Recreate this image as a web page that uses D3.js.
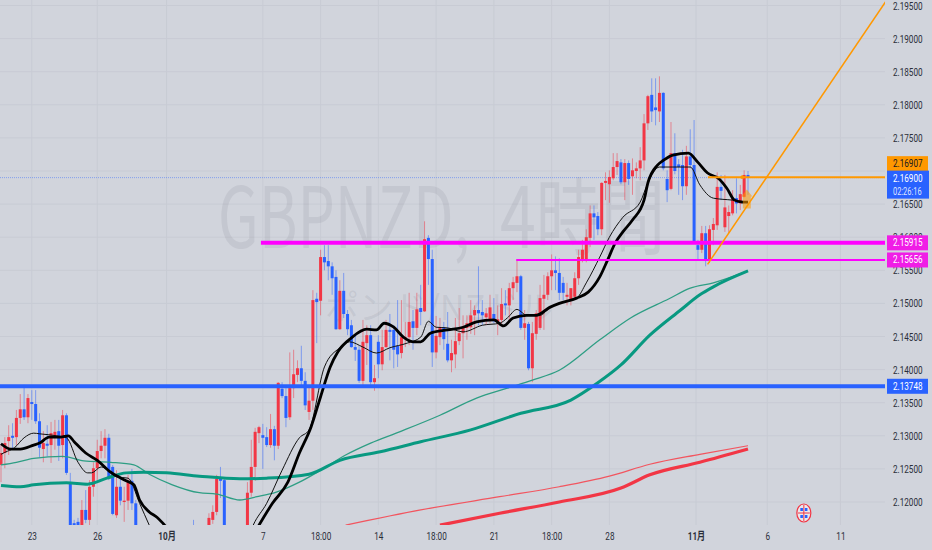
<!DOCTYPE html>
<html>
<head>
<meta charset="utf-8">
<script src="https://cdn.jsdelivr.net/npm/d3@7"></script>
<style>
html, body { margin: 0; padding: 0; background: #d1d4dc; overflow: hidden; }
svg { display: block; }
</style>
</head>
<body>
<div id="chart"></div>
<script>
// [open, high, low, close], one row per 4h bar
const candles = [
[2.1256,2.1286,2.1230,2.1274],[2.1274,2.1298,2.1251,2.1289],[2.1292,2.1316,2.1271,2.1298],[2.1300,2.1319,2.1279,2.1297],
[2.1298,2.1339,2.1286,2.1327],[2.1327,2.1363,2.1318,2.1340],[2.1340,2.1377,2.1324,2.1328],[2.1328,2.1363,2.1319,2.1357],
[2.1351,2.1369,2.1324,2.1348],[2.1348,2.1369,2.1318,2.1322],[2.1322,2.1334,2.1268,2.1282],[2.1280,2.1307,2.1260,2.1289],
[2.1288,2.1316,2.1269,2.1285],[2.1286,2.1321,2.1259,2.1304],[2.1297,2.1324,2.1279,2.1306],[2.1307,2.1324,2.1262,2.1285],
[2.1286,2.1339,2.1266,2.1331],[2.1331,2.1334,2.1241,2.1244],[2.1230,2.1244,2.1150,2.1158],[2.1168,2.1173,2.1143,2.1155],
[2.1170,2.1176,2.1145,2.1155],[2.1165,2.1203,2.1158,2.1188],[2.1188,2.1218,2.1168,2.1173],[2.1173,2.1233,2.1162,2.1223],
[2.1223,2.1260,2.1208,2.1251],[2.1251,2.1294,2.1233,2.1277],[2.1277,2.1307,2.1266,2.1285],[2.1285,2.1310,2.1266,2.1297],
[2.1297,2.1303,2.1233,2.1236],[2.1253,2.1256,2.1180,2.1182],[2.1180,2.1248,2.1176,2.1223],[2.1223,2.1236,2.1195,2.1202],
[2.1200,2.1223,2.1170,2.1202],[2.1202,2.1241,2.1188,2.1230],[2.1232,2.1250,2.1188,2.1198],[2.1198,2.1203,2.1155,2.1161],
[2.1160,2.1162,2.1125,2.1135],[2.1135,2.1150,2.1115,2.1128],[2.1128,2.1145,2.1110,2.1120],[2.1120,2.1140,2.1105,2.1132],
[2.1132,2.1150,2.1120,2.1125],[2.1125,2.1140,2.1100,2.1110],[2.1110,2.1130,2.1095,2.1122],[2.1122,2.1145,2.1115,2.1135],
[2.1135,2.1150,2.1120,2.1125],[2.1125,2.1140,2.1110,2.1130],[2.1130,2.1155,2.1125,2.1148],[2.1148,2.1160,2.1130,2.1135],
[2.1135,2.1150,2.1125,2.1145],[2.1145,2.1160,2.1135,2.1140],[2.1158,2.1173,2.1130,2.1140],[2.1135,2.1150,2.1125,2.1145],
[2.1145,2.1160,2.1135,2.1150],[2.1150,2.1163,2.1140,2.1158],[2.1161,2.1183,2.1155,2.1176],[2.1173,2.1195,2.1167,2.1185],
[2.1185,2.1241,2.1180,2.1235],[2.1235,2.1253,2.1206,2.1232],[2.1233,2.1236,2.1155,2.1158],[2.1158,2.1160,2.1130,2.1140],
[2.1140,2.1155,2.1120,2.1130],[2.1130,2.1150,2.1115,2.1142],[2.1142,2.1155,2.1125,2.1135],[2.1135,2.1150,2.1125,2.1145],
[2.1150,2.1230,2.1140,2.1214],[2.1214,2.1294,2.1208,2.1253],[2.1253,2.1312,2.1232,2.1306],[2.1304,2.1315,2.1289,2.1313],
[2.1301,2.1318,2.1250,2.1297],[2.1298,2.1313,2.1283,2.1286],[2.1286,2.1333,2.1282,2.1310],[2.1310,2.1315,2.1263,2.1285],
[2.1285,2.1381,2.1280,2.1380],[2.1371,2.1381,2.1357,2.1360],[2.1360,2.1372,2.1313,2.1327],[2.1328,2.1426,2.1324,2.1372],
[2.1372,2.1430,2.1357,2.1393],[2.1392,2.1414,2.1381,2.1402],[2.1402,2.1436,2.1377,2.1383],[2.1383,2.1396,2.1339,2.1346],
[2.1336,2.1377,2.1324,2.1353],[2.1353,2.1520,2.1339,2.1505],[2.1507,2.1516,2.1440,2.1502],[2.1504,2.1581,2.1482,2.1570],
[2.1570,2.1588,2.1550,2.1562],[2.1564,2.1588,2.1535,2.1556],[2.1556,2.1562,2.1513,2.1538],[2.1540,2.1550,2.1460,2.1461],
[2.1461,2.1535,2.1460,2.1519],[2.1519,2.1546,2.1478,2.1484],[2.1484,2.1490,2.1452,2.1461],[2.1467,2.1475,2.1433,2.1434],
[2.1434,2.1451,2.1413,2.1430],[2.1430,2.1437,2.1380,2.1383],[2.1383,2.1475,2.1377,2.1442],[2.1440,2.1467,2.1407,2.1452],
[2.1452,2.1467,2.1377,2.1381],[2.1381,2.1407,2.1368,2.1387],[2.1442,2.1452,2.1387,2.1408],[2.1408,2.1460,2.1399,2.1434],
[2.1434,2.1475,2.1433,2.1460],[2.1460,2.1484,2.1414,2.1457],[2.1460,2.1467,2.1402,2.1430],[2.1436,2.1505,2.1404,2.1423],
[2.1425,2.1505,2.1417,2.1449],[2.1448,2.1472,2.1434,2.1449],[2.1449,2.1516,2.1437,2.1472],[2.1473,2.1490,2.1430,2.1463],
[2.1463,2.1516,2.1452,2.1491],[2.1493,2.1528,2.1467,2.1487],[2.1488,2.1624,2.1487,2.1597],[2.1599,2.1603,2.1528,2.1567],
[2.1567,2.1581,2.1404,2.1426],[2.1426,2.1481,2.1417,2.1451],[2.1449,2.1478,2.1437,2.1464],[2.1464,2.1472,2.1430,2.1446],
[2.1439,2.1487,2.1411,2.1414],[2.1414,2.1445,2.1396,2.1425],[2.1423,2.1478,2.1402,2.1443],[2.1443,2.1493,2.1437,2.1455],
[2.1455,2.1482,2.1417,2.1463],[2.1463,2.1482,2.1445,2.1470],[2.1464,2.1505,2.1454,2.1482],[2.1482,2.1497,2.1452,2.1490],
[2.1490,2.1556,2.1467,2.1485],[2.1487,2.1505,2.1467,2.1482],[2.1479,2.1493,2.1467,2.1485],[2.1475,2.1513,2.1470,2.1494],
[2.1484,2.1508,2.1470,2.1473],[2.1472,2.1497,2.1452,2.1476],[2.1475,2.1523,2.1467,2.1499],[2.1500,2.1520,2.1482,2.1497],
[2.1497,2.1531,2.1475,2.1523],[2.1523,2.1540,2.1505,2.1532],[2.1531,2.1565,2.1517,2.1541],[2.1541,2.1543,2.1460,2.1463],
[2.1463,2.1490,2.1445,2.1470],[2.1469,2.1472,2.1399,2.1402],[2.1402,2.1472,2.1381,2.1455],[2.1454,2.1490,2.1445,2.1485],
[2.1463,2.1528,2.1460,2.1508],[2.1507,2.1543,2.1460,2.1513],[2.1513,2.1547,2.1505,2.1541],[2.1541,2.1574,2.1520,2.1550],
[2.1550,2.1571,2.1520,2.1546],[2.1546,2.1568,2.1505,2.1516],[2.1531,2.1540,2.1505,2.1516],[2.1510,2.1531,2.1497,2.1513],
[2.1505,2.1523,2.1497,2.1523],[2.1510,2.1547,2.1505,2.1538],[2.1538,2.1581,2.1528,2.1570],[2.1565,2.1596,2.1562,2.1581],
[2.1565,2.1612,2.1562,2.1600],[2.1599,2.1648,2.1585,2.1636],[2.1636,2.1648,2.1596,2.1630],[2.1632,2.1638,2.1603,2.1612],
[2.1612,2.1683,2.1603,2.1682],[2.1682,2.1698,2.1656,2.1685],[2.1680,2.1701,2.1652,2.1691],[2.1689,2.1727,2.1686,2.1706],
[2.1706,2.1727,2.1694,2.1715],[2.1713,2.1718,2.1680,2.1683],[2.1683,2.1718,2.1656,2.1712],[2.1712,2.1716,2.1679,2.1688],
[2.1692,2.1719,2.1664,2.1701],[2.1700,2.1713,2.1689,2.1704],[2.1704,2.1736,2.1686,2.1716],[2.1716,2.1786,2.1701,2.1772],
[2.1772,2.1815,2.1762,2.1813],[2.1815,2.1840,2.1774,2.1790],[2.1796,2.1840,2.1769,2.1792],[2.1790,2.1843,2.1774,2.1818],
[2.1818,2.1819,2.1701,2.1704],[2.1688,2.1701,2.1653,2.1671],[2.1673,2.1774,2.1671,2.1727],[2.1727,2.1757,2.1695,2.1700],
[2.1710,2.1718,2.1664,2.1706],[2.1709,2.1732,2.1656,2.1677],[2.1677,2.1738,2.1664,2.1722],[2.1722,2.1763,2.1704,2.1709],
[2.1709,2.1777,2.1590,2.1593],[2.1588,2.1596,2.1565,2.1581],[2.1581,2.1617,2.1576,2.1606],[2.1606,2.1617,2.1556,2.1565],
[2.1565,2.1618,2.1561,2.1612],[2.1611,2.1629,2.1588,2.1620],[2.1618,2.1698,2.1611,2.1676],[2.1676,2.1694,2.1656,2.1670],
[2.1615,2.1694,2.1608,2.1645],[2.1632,2.1648,2.1606,2.1638],[2.1636,2.1671,2.1633,2.1659],[2.1659,2.1689,2.1636,2.1651],
[2.1651,2.1679,2.1641,2.1665],[2.1661,2.1701,2.1660,2.1694],[2.1694,2.1700,2.1664,2.1690]
];

// moving averages as [bar, price]
const blackThick = [[0,2.1288],[2.5,2.1280],[5,2.1280],[8.5,2.1286],[10,2.1289],[12.5,2.1298],[15.5,2.1298],[17.5,2.1300],[19,2.1291],[22,2.1274],[25,2.1263],[28.5,2.1245],[32.5,2.1232],[34.5,2.1226],[36,2.1203],[38.5,2.1185],[40.5,2.1177],[42.5,2.1165],[45,2.1150],[49,2.1125],[54.5,2.1105],[59.5,2.1112],[63.5,2.1135],[65.5,2.1150],[67,2.1165],[70.5,2.1198],[74.5,2.1230],[77.5,2.1274],[80.5,2.1313],[83,2.1359],[85.5,2.1404],[87.5,2.1427],[91,2.1448],[95,2.1461],[97.5,2.1460],[99.5,2.1470],[102,2.1464],[104.5,2.1449],[107,2.1442],[109,2.1442],[111.5,2.1455],[116,2.1460],[120,2.1464],[123.5,2.1472],[128,2.1475],[130.5,2.1466],[133,2.1478],[136.5,2.1482],[139,2.1482],[142.5,2.1494],[145,2.1500],[149.5,2.1508],[152.5,2.1517],[155.5,2.1540],[157.5,2.1565],[159.5,2.1591],[161.5,2.1608],[164,2.1626],[167,2.1656],[168,2.1682],[170.5,2.1709],[172,2.1716],[174.5,2.1724],[178.5,2.1727],[181,2.1713],[183.5,2.1697],[186.5,2.1688],[188.5,2.1674],[190.5,2.1656],[192.5,2.1653],[194,2.1653]];
const blackThin = [[0,2.1272],[1,2.1275],[3.5,2.1282],[6,2.1297],[8.5,2.1304],[10,2.1303],[14.5,2.1300],[17,2.1297],[20,2.1260],[22.5,2.1244],[23.5,2.1244],[26,2.1253],[30,2.1238],[33,2.1236],[36,2.1198],[38.5,2.1165],[41,2.1135],[49,2.1105],[58,2.1097],[63.5,2.1135],[65.5,2.1165],[69,2.1198],[73,2.1248],[77.5,2.1297],[80,2.1309],[84,2.1404],[88,2.1433],[90.5,2.1442],[94,2.1434],[97.5,2.1425],[101,2.1433],[105.5,2.1440],[109,2.1449],[111,2.1473],[113,2.1464],[116,2.1463],[120,2.1457],[125,2.1467],[129.5,2.1470],[131.5,2.1478],[134,2.1491],[136.5,2.1482],[140,2.1482],[142.5,2.1493],[145,2.1500],[149.5,2.1508],[152,2.1531],[155.5,2.1570],[158,2.1600],[161.5,2.1630],[166,2.1653],[168,2.1682],[171,2.1706],[174.5,2.1706],[179,2.1706],[181.5,2.1679],[185,2.1659],[190,2.1656],[194,2.1653]];
const tealThin = [[0,2.1256],[4,2.1260],[8.5,2.1266],[16,2.1269],[21.5,2.1262],[28.5,2.1260],[34.5,2.1256],[38.5,2.1242],[44.5,2.1226],[51.5,2.1214],[56,2.1212],[62,2.1203],[66.5,2.1208],[71.5,2.1215],[77.5,2.1230],[83,2.1248],[89.5,2.1271],[96,2.1289],[103.5,2.1306],[114,2.1331],[123.5,2.1357],[131.5,2.1372],[138,2.1384],[145,2.1399],[155.5,2.1445],[163.5,2.1478],[173.5,2.1507],[179,2.1523],[185,2.1531],[194,2.1549]];
const tealThick = [[0,2.1225],[5,2.1223],[8.5,2.1226],[17,2.1229],[22.5,2.1227],[27.5,2.1236],[32.5,2.1244],[37,2.1245],[43,2.1244],[51.5,2.1239],[62,2.1235],[69,2.1236],[80,2.1242],[88,2.1263],[98.5,2.1276],[109,2.1291],[122,2.1309],[135,2.1334],[148,2.1354],[155,2.1380],[161,2.1407],[168.5,2.1452],[176.5,2.1490],[181.5,2.1513],[185,2.1525],[194,2.1549]];
const redThin = [[89.5,2.1165],[109,2.1188],[129.5,2.1208],[145,2.1223],[158,2.1239],[168.5,2.1257],[181.5,2.1272],[194,2.1285]];
const redThick = [[114,2.1165],[129.5,2.1183],[145,2.1200],[161,2.1221],[168.5,2.1241],[181.5,2.1260],[194,2.1280]];

const yTicks = [2.12,2.125,2.13,2.135,2.14,2.145,2.15,2.155,2.16,2.165,2.17,2.175,2.18,2.185,2.19,2.195];
const xTickBars = [8,25,43,68,83,98,113,128,143,158,180.5,199,218];
const xTickLabels = ['23','26','10月','7','18:00','14','18:00','21','18:00','28','11月','6','11'];

// price levels: [first bar, price, line width, colour]
const levels = [
  [-1, 2.13748, 4, '#2962ff'],
  [67.5, 2.15915, 4, '#ff00ff'],
  [133.8, 2.15656, 2, '#ff00ff'],
  [183.6, 2.16907, 2, '#ff9800']
];
const lastPrice = 2.169;
const trendBars = [183.5, 230];
const trendPrices = [2.1559, 2.1958];

const width = 932, height = 550, plotW = 885, plotH = 525;
const upColor = '#f23645', downColor = '#2962ff';

const x = d3.scaleLinear().domain([0, 194]).range([1, 748]);
const y = d3.scaleLinear().domain([2.12, 2.195]).range([502, 5.5]);

const svg = d3.select('#chart').append('svg')
    .attr('width', width)
    .attr('height', height);

svg.append('rect')
    .attr('width', width)
    .attr('height', height)
    .attr('fill', '#d1d4dc');

svg.append('clipPath').attr('id', 'plot')
    .append('rect')
    .attr('width', plotW)
    .attr('height', plotH);

// grid
svg.append('g').selectAll('line')
    .data(yTicks)
    .enter().append('line')
    .attr('x1', 0)
    .attr('x2', plotW)
    .attr('y1', d => y(d))
    .attr('y2', d => y(d))
    .attr('stroke', '#c8cbd4');

svg.append('g').selectAll('line')
    .data(xTickBars)
    .enter().append('line')
    .attr('x1', d => x(d))
    .attr('x2', d => x(d))
    .attr('y1', 0)
    .attr('y2', plotH)
    .attr('stroke', '#c8cbd4');

// watermark
const mark = svg.append('g')
    .attr('font-family', '"Noto Sans CJK JP"')
    .attr('fill', '#787b86')
    .attr('fill-opacity', 0.14);

mark.append('text')
    .text('GBPNZD,')
    .attr('x', 218)
    .attr('y', 248)
    .attr('font-size', 84)
    .attr('textLength', 252)
    .attr('lengthAdjust', 'spacingAndGlyphs');

mark.append('text')
    .text('4時間')
    .attr('x', 500)
    .attr('y', 248)
    .attr('font-size', 84)
    .attr('textLength', 165)
    .attr('lengthAdjust', 'spacingAndGlyphs');

mark.append('text')
    .text('ポンド/NZドル')
    .attr('x', 325)
    .attr('y', 320)
    .attr('font-size', 34)
    .attr('textLength', 228)
    .attr('lengthAdjust', 'spacingAndGlyphs');

const plot = svg.append('g').attr('clip-path', 'url(#plot)');

// dotted line at the last price
plot.append('line')
    .attr('x1', 0)
    .attr('x2', plotW)
    .attr('y1', y(lastPrice))
    .attr('y2', y(lastPrice))
    .attr('stroke', '#2962ff')
    .attr('stroke-opacity', 0.45)
    .attr('stroke-dasharray', '1,1');

// candles
const colorOf = d => d[3] >= d[0] ? upColor : downColor;

plot.append('g').selectAll('line')
    .data(candles)
    .enter().append('line')
    .attr('x1', (d, i) => x(i))
    .attr('x2', (d, i) => x(i))
    .attr('y1', d => y(d[1]))
    .attr('y2', d => y(d[2]))
    .attr('stroke', colorOf)
    .attr('stroke-opacity', 0.5);

plot.append('g').selectAll('rect')
    .data(candles)
    .enter().append('rect')
    .attr('x', (d, i) => x(i) - 1.5)
    .attr('width', 3)
    .attr('y', d => y(Math.max(d[0], d[3])))
    .attr('height', d => Math.max(1, Math.abs(y(d[0]) - y(d[3]))))
    .attr('fill', colorOf);

// moving averages
const line = d3.line()
    .x(d => x(d[0]))
    .y(d => y(d[1]))
    .curve(d3.curveMonotoneX);

function drawLine(data, color, w) {
  plot.append('path')
      .attr('d', line(data))
      .attr('fill', 'none')
      .attr('stroke', color)
      .attr('stroke-width', w)
      .attr('stroke-linejoin', 'round');
}
drawLine(redThin, '#f2555f', 1.2);
drawLine(redThick, upColor, 3.2);
drawLine(tealThin, '#2e9e84', 1.3);
drawLine(tealThick, '#089981', 3);
drawLine(blackThin, '#111', 1);
drawLine(blackThick, '#000', 2.8);

// levels and trend line
plot.append('g').selectAll('line')
    .data(levels)
    .enter().append('line')
    .attr('x1', d => x(d[0]))
    .attr('x2', plotW)
    .attr('y1', d => y(d[1]))
    .attr('y2', d => y(d[1]))
    .attr('stroke', d => d[3])
    .attr('stroke-width', d => d[2]);

plot.append('line')
    .attr('x1', x(trendBars[0]))
    .attr('y1', y(trendPrices[0]))
    .attr('x2', x(trendBars[1]))
    .attr('y2', y(trendPrices[1]))
    .attr('stroke', '#ff9800')
    .attr('stroke-width', 1.5);

// up arrow marker on the last bar
const ax = x(193.7), ay = y(2.1672);
plot.append('path')
    .attr('d', 'M' + ax + ',' + ay + 'l5.5,7h-1.5v12h-8v-12h-1.5z')
    .attr('fill', '#ff9800')
    .attr('fill-opacity', 0.55);

plot.append('circle')
    .attr('cx', x(192.5))
    .attr('cy', y(2.16907))
    .attr('r', 1.8)
    .attr('fill', '#ff9800');

// event flag on the time axis
const flag = svg.append('g').attr('transform', 'translate(' + x(208.5) + ',513)');
flag.append('ellipse')
    .attr('rx', 7)
    .attr('ry', 9)
    .attr('fill', '#e8e9ee')
    .attr('stroke', '#f23645')
    .attr('stroke-width', 1.2);
[[-3.5,-5],[1,-5],[-3.5,2],[1,2]].forEach(p => {
  flag.append('rect')
      .attr('x', p[0])
      .attr('y', p[1])
      .attr('width', 2.6)
      .attr('height', 3)
      .attr('fill', '#2962ff');
});
flag.append('path')
    .attr('d', 'M0,-8V8M-6,0H6')
    .attr('stroke', '#f23645')
    .attr('stroke-width', 1);

// axes, text squeezed to the narrow look of the screenshot
function squeeze(sel) {
  sel.each(function() {
    const len = this.getComputedTextLength();
    d3.select(this)
        .attr('textLength', len * 0.74)
        .attr('lengthAdjust', 'spacingAndGlyphs');
  });
}

const yAxis = svg.append('g')
    .attr('transform', 'translate(' + plotW + ',0)')
    .call(d3.axisRight(y).tickValues(yTicks).tickFormat(d3.format('.5f')).tickSize(0).tickPadding(8));
yAxis.select('.domain').remove();
yAxis.selectAll('text')
    .attr('font-family', 'Roboto')
    .attr('font-size', 11)
    .attr('fill', '#2a2e39')
    .call(squeeze);

const xAxis = svg.append('g')
    .attr('transform', 'translate(0,' + plotH + ')')
    .call(d3.axisBottom(x).tickValues(xTickBars)
        .tickFormat((d, i) => xTickLabels[i]).tickSize(0).tickPadding(7));
xAxis.select('.domain').remove();
xAxis.selectAll('text')
    .attr('font-family', 'Roboto, "Noto Sans CJK JP"')
    .attr('font-size', 11)
    .attr('font-weight', (d, i) => xTickLabels[i].endsWith('月') ? 700 : 400)
    .attr('fill', '#2a2e39')
    .call(squeeze);

// price labels
const priceLabels = [
  [2.16907, '#ff9800', '#131722', d3.format('.5f')(2.16907)],
  [2.15915, '#f01de6', '#fff', d3.format('.5f')(2.15915)],
  [2.15656, '#f01de6', '#fff', d3.format('.5f')(2.15656)],
  [2.13748, '#2962ff', '#fff', d3.format('.5f')(2.13748)]
];
const labelG = svg.append('g');
priceLabels.forEach(l => {
  const cy = y(l[0]);
  const top = l[0] === 2.16907 ? cy - 21 : cy - 7.5;
  labelG.append('rect')
      .attr('x', plotW + 2)
      .attr('y', top)
      .attr('width', 41)
      .attr('height', 15)
      .attr('fill', l[1]);
  labelG.append('text')
      .text(l[3])
      .attr('x', plotW + 8)
      .attr('y', top + 11)
      .attr('font-family', 'Roboto')
      .attr('font-size', 11)
      .attr('fill', l[2])
      .call(squeeze);
});

labelG.append('rect')
    .attr('x', plotW + 2)
    .attr('y', y(lastPrice) - 7)
    .attr('width', 42)
    .attr('height', 28)
    .attr('fill', '#2962ff');
labelG.append('text')
    .text(d3.format('.5f')(lastPrice))
    .attr('x', plotW + 8)
    .attr('y', y(lastPrice) + 4)
    .attr('font-family', 'Roboto')
    .attr('font-size', 11)
    .attr('fill', '#fff')
    .call(squeeze);
labelG.append('text')
    .text('02:26:16')
    .attr('x', plotW + 8)
    .attr('y', y(lastPrice) + 17)
    .attr('font-family', 'Roboto')
    .attr('font-size', 10)
    .attr('fill', '#fff')
    .attr('fill-opacity', 0.85)
    .call(squeeze);
</script>
</body>
</html>
